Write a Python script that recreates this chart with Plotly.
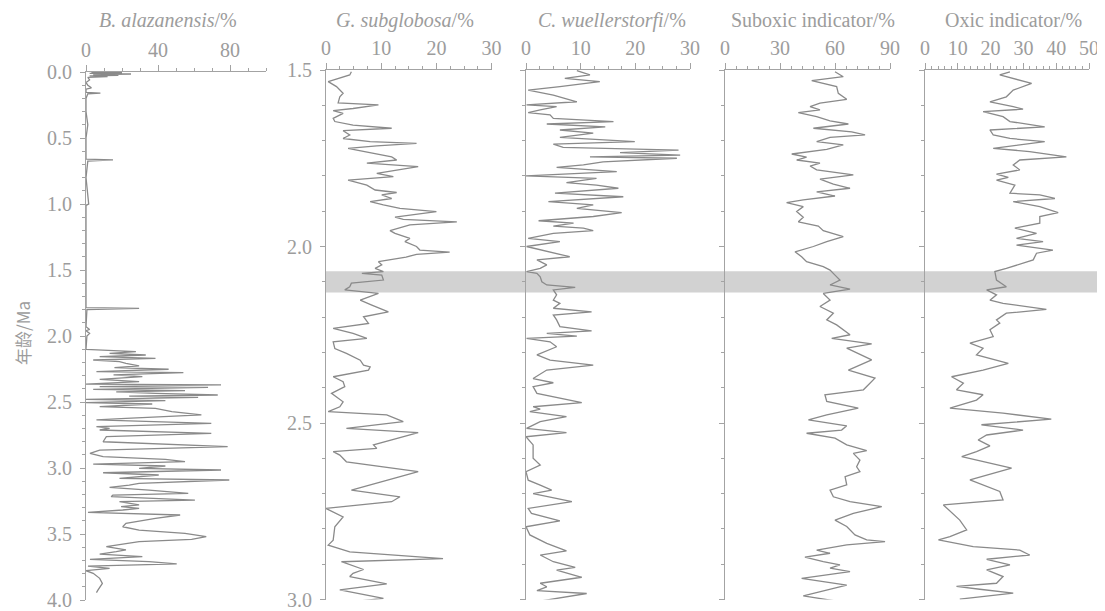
import plotly.graph_objects as go

# page body keeps the browser's default 8px margin, so the figure is drawn 8px smaller
# and every pixel position below is given in window coordinates and shifted by OFF.
OFF = 8
W, H = 1105 - OFF, 611 - OFF

# ---------------- data ----------------
# B. alazanensis (%) vs age (Ma)
ba_age = [0.0, 0.005, 0.01, 0.015, 0.02, 0.025, 0.03, 0.035, 0.04, 0.06, 0.08, 0.10, 0.12, 0.13,
          0.155, 0.16, 0.165, 0.20, 0.30, 0.40, 0.50, 0.66, 0.665, 0.675, 0.80, 1.00, 1.01, 1.30,
          1.785, 1.79, 1.80, 1.93, 1.95, 1.96, 1.98, 2.00, 2.09,
          2.101, 2.119, 2.131, 2.144, 2.157, 2.169, 2.182, 2.194, 2.207, 2.227, 2.240, 2.252, 2.270,
          2.278, 2.295, 2.308, 2.328, 2.346, 2.364, 2.371, 2.384, 2.389, 2.404, 2.414, 2.424, 2.434,
          2.447, 2.455, 2.465, 2.480, 2.490, 2.505, 2.515, 2.535, 2.548, 2.573, 2.598, 2.624, 2.636,
          2.662, 2.687, 2.700, 2.712, 2.737, 2.763, 2.801, 2.838, 2.864, 2.889, 2.914, 2.934, 2.952,
          2.970, 2.985, 3.003, 3.015, 3.036, 3.053, 3.078, 3.091, 3.116, 3.129, 3.147, 3.167, 3.192,
          3.205, 3.217, 3.243, 3.255, 3.280, 3.293, 3.306, 3.318, 3.336, 3.356, 3.381, 3.419, 3.445,
          3.470, 3.495, 3.520, 3.541, 3.558, 3.596, 3.621, 3.634, 3.652, 3.672, 3.692, 3.710, 3.727,
          3.743, 3.760, 3.778, 3.798, 3.836, 3.874, 3.924, 3.944]
ba_val = [3, 20, 2, 25, 4, 18, 2, 12, 1, 2, 0, 1, 3, 0,
          0, 8, 1, 0, 0, 1, 0, 0, 15, 1, 0, 1.5, 0, 0,
          0, 29.5, 0.5, 0, 2, 0, 2, 0.5, 0,
          0, 27.7, 13.1, 33.2, 7.6, 38.6, 4.0, 18.6, 22.2, 29.5, 15.8, 45.9, 5.8,
          54.1, 15.3, 31.3, 7.6, 29.5, 0, 75.0, 7.6, 67.8, 4.0, 55.0, 16.8, 38.6,
          73.2, 24.0, 62.3, 0, 44.1, 0, 36.8, 7.6, 38.6, 47.7, 64.1, 22.2, 5.8,
          69.6, 5.8, 13.1, 7.6, 69.6, 11.3, 9.5, 78.7, 7.6, 2.2, 9.5, 44.1, 55.0,
          4.0, 44.1, 29.5, 75.0, 9.5, 40.4, 18.6, 79.6, 29.5, 24.0, 13.1, 35.0, 56.8,
          14.9, 14.0, 60.5, 18.6, 29.5, 19.5, 29.5, 20.4, 1.1, 52.3, 38.6, 22.2, 20.4,
          29.5, 55.0, 66.8, 58.7, 29.5, 11.3, 22.2, 16.8, 7.6, 31.3, 2.2, 35.0, 50.4,
          1.1, 13.1, 0, 4.0, 7.6, 9.1, 6.7, 5.8]

# G. subglobosa (%)
gs_age = [1.505, 1.514, 1.533, 1.547, 1.566, 1.576, 1.593, 1.599, 1.609, 1.615, 1.623, 1.637, 1.646,
          1.656, 1.665, 1.672, 1.684, 1.694, 1.703, 1.708, 1.715, 1.722, 1.727, 1.746, 1.755, 1.764,
          1.774, 1.783, 1.793, 1.802, 1.812, 1.826, 1.840, 1.847, 1.854, 1.864, 1.873, 1.882, 1.892,
          1.901, 1.911, 1.917, 1.923, 1.930, 1.939, 1.955, 1.963, 1.977, 1.986, 2.000, 2.010, 2.016,
          2.022, 2.030, 2.043, 2.052, 2.062, 2.071, 2.076, 2.081, 2.095, 2.104, 2.114, 2.123, 2.133,
          2.152, 2.166, 2.185, 2.199, 2.218, 2.232, 2.246, 2.260, 2.270, 2.289, 2.303, 2.322, 2.336,
          2.341, 2.350, 2.369, 2.383, 2.397, 2.416, 2.440, 2.454, 2.468, 2.477, 2.496, 2.515, 2.527,
          2.562, 2.572, 2.581, 2.591, 2.610, 2.638, 2.690, 2.709, 2.723, 2.742, 2.766, 2.794, 2.832,
          2.846, 2.865, 2.884, 2.893, 2.915, 2.926, 2.935, 2.956, 2.973, 2.997, 3.009]
gs_val = [4.6, 4.3, 0.4, 1.9, 3.1, 2.5, 2.2, 9.5, 4.9, 1.3, 3.1, 1.3, 1.6,
          4.9, 11.9, 3.1, 4.3, 3.1, 8.0, 16.4, 9.2, 4.0, 5.6, 11.9, 12.8, 7.4,
          16.7, 13.4, 9.2, 12.2, 4.0, 7.4, 8.9, 12.8, 10.1, 11.9, 8.0, 10.4, 13.4,
          20.0, 15.8, 12.5, 14.0, 23.7, 15.2, 11.6, 12.5, 15.2, 14.3, 16.4, 17.0, 22.4,
          16.4, 14.5, 9.5, 10.1, 8.9, 10.4, 6.5, 10.1, 10.4, 4.6, 4.3, 3.4, 9.5,
          6.2, 8.3, 11.3, 6.8, 7.7, 1.3, 4.9, 7.4, 1.3, 1.6, 3.7, 6.2, 6.8,
          8.0, 7.7, 1.3, 3.1, 3.4, 1.0, 3.1, 2.5, 0.4, 11.0, 14.0, 3.7, 16.7,
          8.6, 9.2, 1.3, 2.5, 3.7, 16.7, 4.6, 13.4, 11.9, 0.0, 3.1, 1.6, 1.3,
          0.4, 4.3, 21.2, 2.8, 6.8, 4.9, 4.3, 11.0, 2.5, 10.4, 3.1]

# C. wuellerstorfi (%)
cw_age = [1.502, 1.514, 1.524, 1.533, 1.547, 1.557, 1.571, 1.590, 1.599, 1.604, 1.613, 1.621, 1.627,
          1.637, 1.646, 1.653, 1.661, 1.670, 1.679, 1.691, 1.703, 1.710, 1.719, 1.727, 1.734, 1.741,
          1.746, 1.750, 1.760, 1.769, 1.776, 1.788, 1.800, 1.807, 1.819, 1.826, 1.835, 1.849, 1.859,
          1.873, 1.882, 1.892, 1.904, 1.915, 1.927, 1.934, 1.942, 1.948, 1.955, 1.963, 1.977, 1.986,
          2.000, 2.015, 2.029, 2.038, 2.052, 2.062, 2.071, 2.076, 2.086, 2.100, 2.109, 2.116, 2.123,
          2.137, 2.152, 2.161, 2.175, 2.185, 2.194, 2.208, 2.227, 2.239, 2.246, 2.254, 2.260, 2.270,
          2.284, 2.307, 2.322, 2.336, 2.350, 2.374, 2.386, 2.397, 2.416, 2.442, 2.454, 2.461, 2.468,
          2.482, 2.496, 2.515, 2.527, 2.539, 2.562, 2.600, 2.619, 2.638, 2.662, 2.676, 2.690, 2.700,
          2.723, 2.742, 2.756, 2.777, 2.794, 2.817, 2.841, 2.862, 2.874, 2.893, 2.909, 2.917, 2.937,
          2.954, 2.964, 2.975, 2.983, 3.006]
cw_val = [9.3, 11.7, 7.1, 13.5, 6.2, 0.4, 5.0, 9.3, 0.1, 5.6, 2.6, 0.4, 4.4,
          5.0, 16.0, 3.8, 14.5, 6.2, 12.3, 6.2, 19.9, 5.0, 6.8, 27.9, 17.2, 28.2,
          11.7, 27.6, 14.1, 10.5, 5.6, 16.6, 0.0, 12.9, 7.4, 12.9, 16.9, 5.3, 17.8,
          4.1, 12.3, 9.3, 17.5, 12.3, 2.3, 8.7, 5.0, 10.5, 12.3, 5.0, 0.4, 6.2,
          0.1, 4.4, 8.0, 2.0, 3.8, 2.6, 0.1, 2.0, 2.6, 2.9, 3.8, 9.0, 5.0,
          5.6, 5.0, 6.2, 5.0, 12.0, 5.0, 5.6, 6.2, 12.0, 3.8, 9.3, 0.1, 4.4,
          5.6, 2.0, 4.4, 12.3, 3.8, 1.3, 5.0, 1.3, 2.0, 10.2, 1.3, 2.6, 0.7,
          7.4, 2.6, 0.1, 7.4, 0.0, 1.3, 1.3, 2.6, 0.0, 0.4, 2.6, 4.7, 1.3,
          8.4, 0.4, 1.0, 6.2, 0.0, 0.7, 3.8, 7.4, 2.6, 5.0, 9.0, 5.6, 10.2,
          2.6, 3.8, 2.0, 11.1, 2.0]

# Suboxic indicator (%)
sub_age = [1.505, 1.519, 1.530, 1.547, 1.566, 1.583, 1.594, 1.604, 1.613, 1.621, 1.632, 1.644, 1.653,
           1.665, 1.675, 1.684, 1.691, 1.703, 1.712, 1.725, 1.738, 1.747, 1.755, 1.764, 1.772, 1.783,
           1.797, 1.809, 1.823, 1.835, 1.845, 1.857, 1.868, 1.876, 1.887, 1.901, 1.917, 1.930, 1.942,
           1.955, 1.972, 1.986, 2.000, 2.015, 2.029, 2.043, 2.057, 2.067, 2.081, 2.095, 2.109, 2.121,
           2.133, 2.152, 2.170, 2.189, 2.208, 2.222, 2.250, 2.260, 2.276, 2.288, 2.321, 2.350, 2.373,
           2.406, 2.411, 2.420, 2.439, 2.458, 2.477, 2.491, 2.508, 2.520, 2.529, 2.543, 2.562, 2.578,
           2.586, 2.605, 2.624, 2.638, 2.652, 2.675, 2.690, 2.709, 2.723, 2.737, 2.756, 2.775, 2.793,
           2.817, 2.831, 2.836, 2.845, 2.860, 2.869, 2.880, 2.893, 2.902, 2.911, 2.921, 2.940, 2.959,
           2.990, 3.006]
sub_val = [60.0, 64.5, 47.3, 60.9, 61.8, 66.4, 51.8, 46.4, 51.8, 40.0, 50.0, 57.3, 67.3,
           48.2, 69.1, 76.4, 57.3, 50.0, 64.5, 55.5, 36.4, 44.5, 39.1, 51.8, 46.4, 50.0,
           70.0, 51.8, 59.1, 68.2, 50.0, 60.0, 42.7, 33.6, 42.7, 39.1, 42.7, 40.0, 50.9,
           53.6, 64.5, 55.5, 48.2, 38.2, 41.8, 44.5, 53.6, 57.3, 60.0, 62.7, 57.3, 68.2,
           53.6, 57.3, 51.8, 59.1, 55.5, 60.9, 68.2, 58.2, 80.0, 66.4, 80.0, 67.3, 81.8,
           75.5, 68.2, 54.5, 55.5, 72.7, 55.5, 45.5, 66.4, 63.6, 44.5, 60.0, 66.4, 77.3,
           70.0, 73.6, 71.8, 73.6, 65.5, 66.4, 57.3, 59.1, 68.2, 85.5, 70.0, 60.0, 66.4,
           70.9, 77.3, 87.3, 66.4, 50.0, 57.3, 43.6, 53.6, 62.7, 57.3, 68.2, 41.8, 66.4,
           42.7, 62.7]

# Oxic indicator (%)
ox_age = [1.505, 1.514, 1.538, 1.557, 1.576, 1.590, 1.604, 1.611, 1.618, 1.632, 1.646, 1.661, 1.670,
          1.684, 1.694, 1.703, 1.722, 1.731, 1.746, 1.755, 1.769, 1.783, 1.795, 1.804, 1.812, 1.826,
          1.849, 1.854, 1.864, 1.873, 1.887, 1.904, 1.915, 1.934, 1.948, 1.963, 1.977, 1.986, 1.996,
          2.010, 2.019, 2.038, 2.062, 2.071, 2.095, 2.114, 2.123, 2.137, 2.152, 2.161, 2.178, 2.189,
          2.208, 2.217, 2.236, 2.255, 2.274, 2.288, 2.307, 2.331, 2.350, 2.369, 2.387, 2.406, 2.420,
          2.435, 2.458, 2.472, 2.489, 2.505, 2.520, 2.534, 2.548, 2.565, 2.581, 2.595, 2.628, 2.661,
          2.694, 2.718, 2.732, 2.775, 2.803, 2.822, 2.831, 2.850, 2.860, 2.874, 2.886, 2.902, 2.916,
          2.935, 2.954, 2.963, 2.971, 2.982, 2.999]
ox_val = [25.9, 22.8, 32.5, 26.9, 24.8, 19.8, 26.9, 29.9, 17.7, 23.8, 25.9, 36.5, 19.8,
          20.8, 25.9, 36.5, 20.8, 31.9, 43.1, 28.9, 26.9, 28.9, 21.8, 25.4, 21.8, 27.4,
          25.9, 35.0, 39.6, 26.9, 35.0, 40.6, 35.0, 35.0, 27.4, 34.0, 27.9, 36.0, 27.9,
          39.0, 34.0, 33.0, 24.8, 21.3, 21.8, 24.8, 18.8, 21.8, 19.8, 23.8, 37.0, 24.8,
          21.8, 22.8, 19.8, 20.8, 13.7, 17.7, 15.7, 25.4, 17.7, 8.1, 11.7, 9.6, 17.7,
          15.7, 7.6, 23.8, 38.5, 17.2, 29.9, 18.8, 16.2, 19.8, 15.7, 11.2, 26.4, 13.7,
          22.8, 23.8, 5.6, 10.6, 12.7, 7.6, 4.1, 14.7, 28.9, 31.9, 18.8, 25.9, 18.8,
          23.8, 21.8, 9.6, 16.7, 26.9, 10.6]

panel_titles = ["<i>B. alazanensis</i>/%", "<i>G. subglobosa</i>/%", "<i>C. wuellerstorfi</i>/%",
                "Suboxic indicator/%", "Oxic indicator/%"]
y_title = "年龄/Ma"
band_age = [2.07, 2.13]

# ---------------- style ----------------
LINE = "#8a8a8a"
AX = "#a3a3a3"
TXT = "#9c9c9c"
SERIF = "Liberation Serif, Times New Roman, serif"

def px(x):
    return (x - OFF) / W

def py(y):
    return 1 - (y - OFF) / H

fig = go.Figure()
series = [(ba_val, ba_age), (gs_val, gs_age), (cw_val, cw_age), (sub_val, sub_age), (ox_val, ox_age)]
for i, (v, a) in enumerate(series):
    n = "" if i == 0 else str(i + 1)
    fig.add_trace(go.Scatter(x=v, y=a, mode="lines", line=dict(color=LINE, width=1.3),
                             xaxis="x" + n, yaxis="y" + n, showlegend=False, hoverinfo="skip"))

x_domains = [(86, 266), (326, 491.6), (526, 690), (725, 890), (925, 1089)]
x_ranges = [[0, 100], [0, 30], [0, 30], [0, 90], [0, 50]]
x_ticks = [[0, 40, 80], [0, 10, 20, 30], [0, 10, 20, 30], [0, 30, 60, 90], [0, 10, 20, 30, 40, 50]]
x_minor = [10, 2.5, 2.5, 6, 2]

tickfont = dict(family=SERIF, size=20, color=TXT)
layout = dict(width=W, height=H, margin=dict(l=0, r=0, t=0, b=0, pad=0, autoexpand=False),
              paper_bgcolor="white", plot_bgcolor="rgba(0,0,0,0)", showlegend=False)

for i in range(5):
    n = "" if i == 0 else str(i + 1)
    layout["xaxis" + n] = dict(
        domain=[px(x_domains[i][0]), px(x_domains[i][1])], range=x_ranges[i],
        side="top", anchor="y" + n, showline=True, linecolor=AX, linewidth=1,
        showgrid=False, zeroline=False, automargin=False, tickmode="array", tickvals=x_ticks[i],
        ticktext=[str(t) for t in x_ticks[i]], ticks="outside", ticklen=6, tickcolor=AX,
        tickwidth=1, tickfont=tickfont, ticklabelstandoff=0,
        minor=dict(dtick=x_minor[i], ticks="outside", ticklen=3, tickcolor=AX, showgrid=False))

# panel 1 y
layout["yaxis"] = dict(domain=[py(600), py(72)], range=[4, 0], anchor="x", showline=True,
                       linecolor=AX, linewidth=1, showgrid=False, zeroline=False, automargin=False,
                       tickmode="linear", tick0=0, dtick=0.5, tickformat=".1f",
                       ticks="outside", ticklen=5, tickcolor=AX, tickfont=tickfont,
                       ticklabelstandoff=4,
                       minor=dict(dtick=0.1, ticks="outside", ticklen=3, tickcolor=AX, showgrid=False))
for i in range(1, 5):
    n = str(i + 1)
    layout["yaxis" + n] = dict(domain=[py(599.5), py(70)], range=[3.0, 1.5], anchor="x" + n,
                               showline=True, linecolor=AX, linewidth=1, showgrid=False,
                               zeroline=False, automargin=False, tickmode="array",
                               tickvals=[1.5, 2.0, 2.5, 3.0],
                               ticktext=["1.5", "2.0", "2.5", "3.0"], showticklabels=(i == 1),
                               ticks="outside", ticklen=5, tickcolor=AX, tickfont=tickfont,
                               ticklabelstandoff=4,
                               minor=dict(dtick=0.1, ticks="outside", ticklen=3, tickcolor=AX,
                                          showgrid=False))

fig.update_layout(**layout)

# shaded band
fig.add_shape(type="rect", xref="paper", yref="y2", x0=px(326), x1=1.0,
              y0=band_age[0], y1=band_age[1], fillcolor="#d2d2d2", line=dict(width=0),
              layer="below")

# titles
title_x = [168, 405, 612, 813, 1013]
for t, xc in zip(panel_titles, title_x):
    fig.add_annotation(text=t, xref="paper", yref="paper", x=px(xc), y=py(20),
                       xanchor="center", yanchor="middle", showarrow=False,
                       font=dict(family=SERIF, size=20, color=TXT))

fig.add_annotation(text=y_title, xref="paper", yref="paper", x=px(22), y=py(333),
                   xanchor="center", yanchor="middle", textangle=-90, showarrow=False,
                   font=dict(family="Noto Sans CJK SC, sans-serif", size=17, color=TXT))

fig.write_html("out.html")
